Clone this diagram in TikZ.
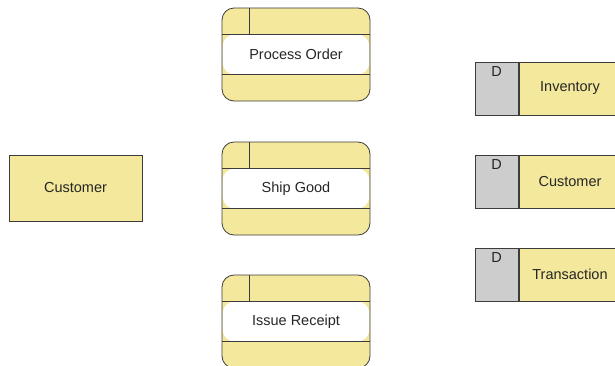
\documentclass[tikz,border=0pt]{standalone}
\usepackage{fontspec}
\setmainfont{Liberation Sans}
\usetikzlibrary{positioning}

\definecolor{dfdyellow}{RGB}{243,232,155}
\definecolor{dfdgray}{RGB}{205,205,205}
\definecolor{dfdline}{RGB}{60,60,60}

\tikzset{
    every node/.style = {font=\fontsize{14.5}{16}\selectfont, text=black!85},
    entity/.style = {rectangle, draw=dfdline, fill=dfdyellow, line width=0.8pt,
                     minimum width=133pt, minimum height=66pt, inner sep=0pt},
    process/.style = {rectangle, rounded corners=12pt, draw=dfdline, fill=dfdyellow,
                      line width=0.8pt, minimum width=148pt, minimum height=93pt, inner sep=0pt,
                      path picture={
                          \fill[white] ([xshift=0.6pt,yshift=20pt]path picture bounding box.west)
                              rectangle ([xshift=-0.6pt,yshift=-20pt]path picture bounding box.east);
                          \draw[dfdline, line width=0.8pt]
                              ([yshift=20pt]path picture bounding box.west) -- ([yshift=20pt]path picture bounding box.east)
                              ([yshift=-20pt]path picture bounding box.west) -- ([yshift=-20pt]path picture bounding box.east)
                              ([xshift=27pt]path picture bounding box.north west) -- ([xshift=27pt,yshift=20pt]path picture bounding box.west);
                      }},
    store/.style = {rectangle, draw=dfdline, fill=dfdyellow, line width=0.8pt,
                    minimum width=102pt, minimum height=53pt, inner sep=0pt},
    storekey/.style = {rectangle, draw=dfdline, fill=dfdgray, line width=0.8pt,
                       minimum width=43pt, minimum height=53pt, inner sep=0pt},
    keylabel/.style = {inner sep=0pt, anchor=north}
}

\begin{document}
\begin{tikzpicture}[x=1pt, y=-1pt]
    \useasboundingbox (0,0) rectangle (615,365);
    \clip (0,0) rectangle (615,365);

    % external entity
    \node (customer) [entity] at (75.5,188) {Customer};

    % processes
    \node (processorder) [process] at (296,54.5) {Process Order};
    \node (shipgood) [process] at (296,188.5) {Ship Good};
    \node (issuereceipt) [process] at (296,321.5) {Issue Receipt};

    % data stores
    \node (inventory) [store] at (570,88.5) {Inventory};
    \node (inventorykey) [storekey, left=0pt of inventory] {};
    \node (inventoryd) [keylabel, below=5pt of inventorykey.north] {D};

    \node (customerstore) [store] at (570,181.5) {Customer};
    \node (customerkey) [storekey, left=0pt of customerstore] {};
    \node (customerd) [keylabel, below=5pt of customerkey.north] {D};

    \node (transaction) [store] at (570,274.5) {Transaction};
    \node (transactionkey) [storekey, left=0pt of transaction] {};
    \node (transactiond) [keylabel, below=5pt of transactionkey.north] {D};
\end{tikzpicture}
\end{document}
